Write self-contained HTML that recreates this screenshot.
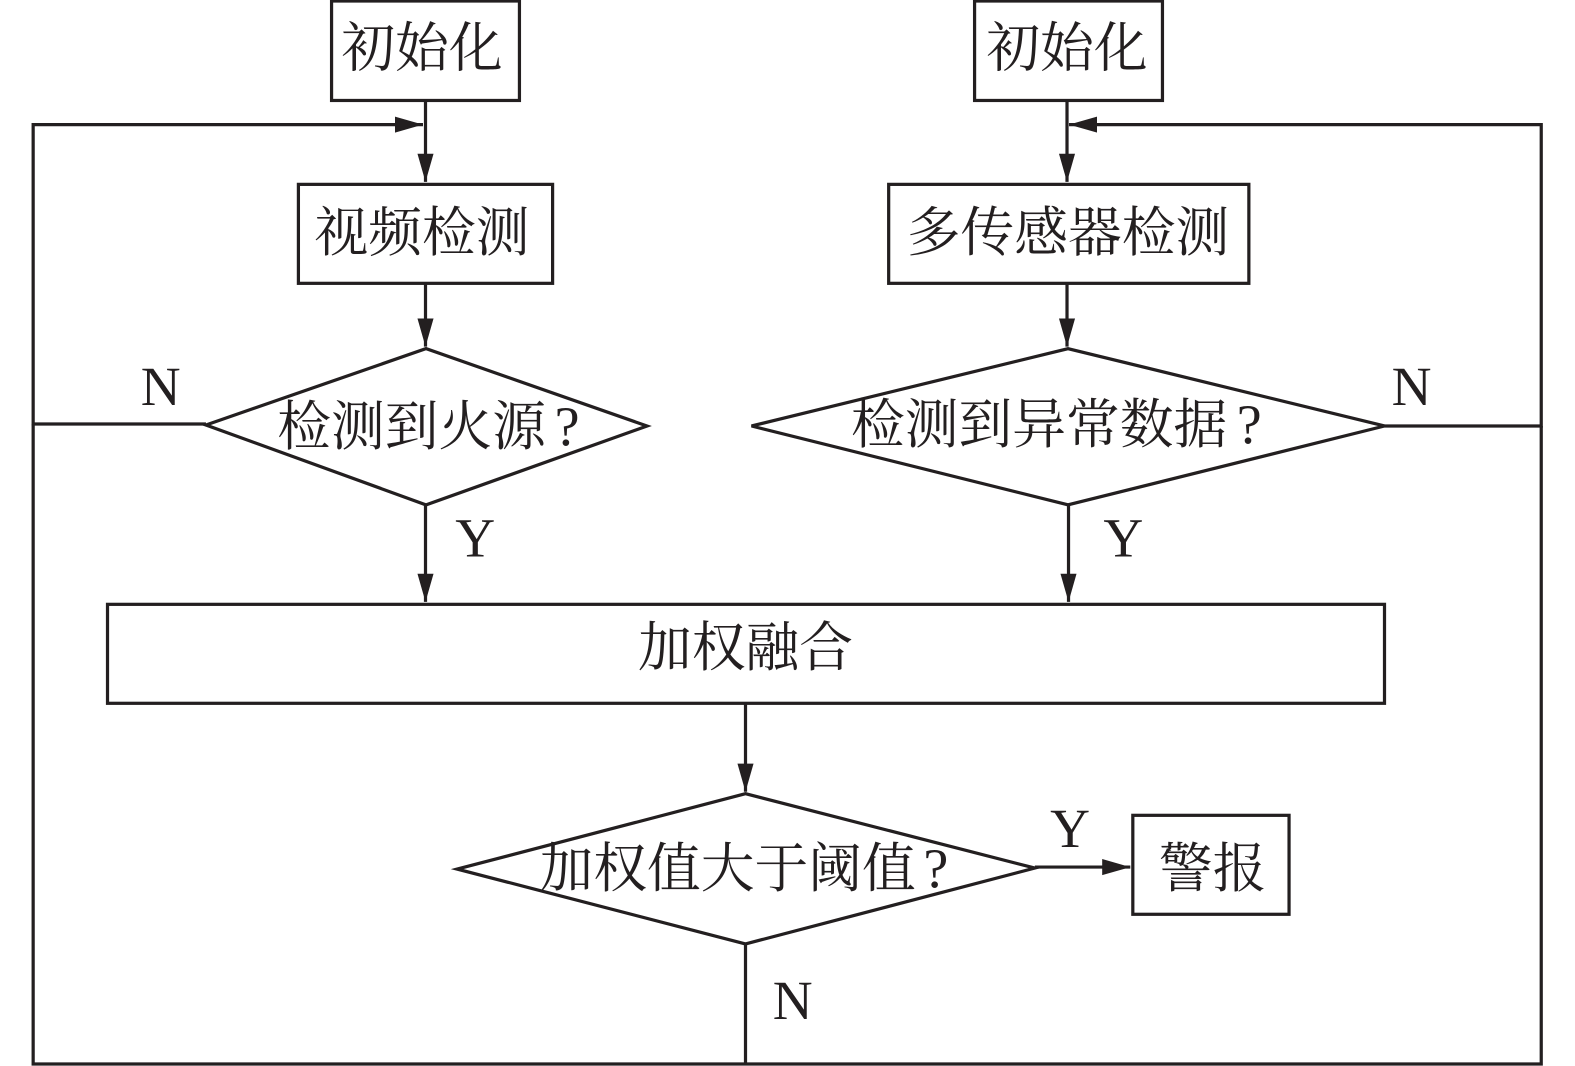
<!DOCTYPE html>
<html>
<head>
<meta charset="utf-8">
<style>
html,body{margin:0;padding:0;background:#fff;width:1575px;height:1066px;overflow:hidden}
svg{display:block}
text{font-family:"Noto Serif CJK SC","Liberation Serif",serif;fill:#231f20;font-size:53.5px;text-anchor:middle}
.s{text-anchor:start}
.q{font-family:"Liberation Serif",serif;text-anchor:start;font-size:56px}
.l{font-family:"Liberation Serif",serif;font-size:55px}
</style>
</head>
<body>
<svg width="1575" height="1066" viewBox="0 0 1567.6 1061">
<defs>
<marker id="a" markerUnits="userSpaceOnUse" markerWidth="30" markerHeight="18" refX="28" refY="8" orient="auto">
<path d="M0 0L28 8L0 16Z" fill="#231f20"/>
</marker>
</defs>
<g fill="none" stroke="#231f20" stroke-width="3.2">
<rect x="330" y="1" width="187" height="99"/>
<rect x="970" y="1" width="187" height="99"/>
<rect x="297" y="183.5" width="253" height="98.5"/>
<rect x="884.5" y="183.5" width="358.5" height="98.5"/>
<rect x="107" y="601.5" width="1271" height="98.5"/>
<rect x="1127.5" y="811.5" width="155.5" height="98.5"/>
<path d="M205 423L424 347L644 424L424 502.5Z"/>
<path d="M748 424L1063 347L1378 424L1063 502.5Z"/>
<path d="M455 865L742 790L1030 864L742 939.5Z"/>
<path d="M423.5 100V181" marker-end="url(#a)"/>
<path d="M1062 100V181" marker-end="url(#a)"/>
<path d="M423.5 282V345" marker-end="url(#a)"/>
<path d="M1062 282V345" marker-end="url(#a)"/>
<path d="M423.5 502V599" marker-end="url(#a)"/>
<path d="M1063.5 502V599" marker-end="url(#a)"/>
<path d="M742 700V788" marker-end="url(#a)"/>
<path d="M1030 863H1125" marker-end="url(#a)"/>
<path d="M205 422H33V124H421" marker-end="url(#a)"/>
<path d="M1378 424H1534V124H1064" marker-end="url(#a)"/>
<path d="M742 939V1059"/>
<path d="M33 422V1059H1534V424"/>
</g>
<text x="420" y="66">初始化</text>
<text x="1062" y="66">初始化</text>
<text x="420" y="250">视频检测</text>
<text x="1063" y="250">多传感器检测</text>
<text class="s" x="276" y="443">检测到火源</text>
<text class="q" x="552" y="443">?</text>
<text class="s" x="847" y="441">检测到异常数据</text>
<text class="q" x="1231" y="441">?</text>
<text class="s" x="537" y="883">加权值大于阈值</text>
<text class="q" x="919" y="883">?</text>
<text x="742" y="663">加权融合</text>
<text x="1207" y="883">警报</text>
<text class="l" x="160" y="403">N</text>
<text class="l" x="1405" y="403">N</text>
<text class="l" x="473" y="554">Y</text>
<text class="l" x="1118" y="554">Y</text>
<text class="l" x="1065" y="843">Y</text>
<text class="l" x="789" y="1014">N</text>
</svg>
</body>
</html>
